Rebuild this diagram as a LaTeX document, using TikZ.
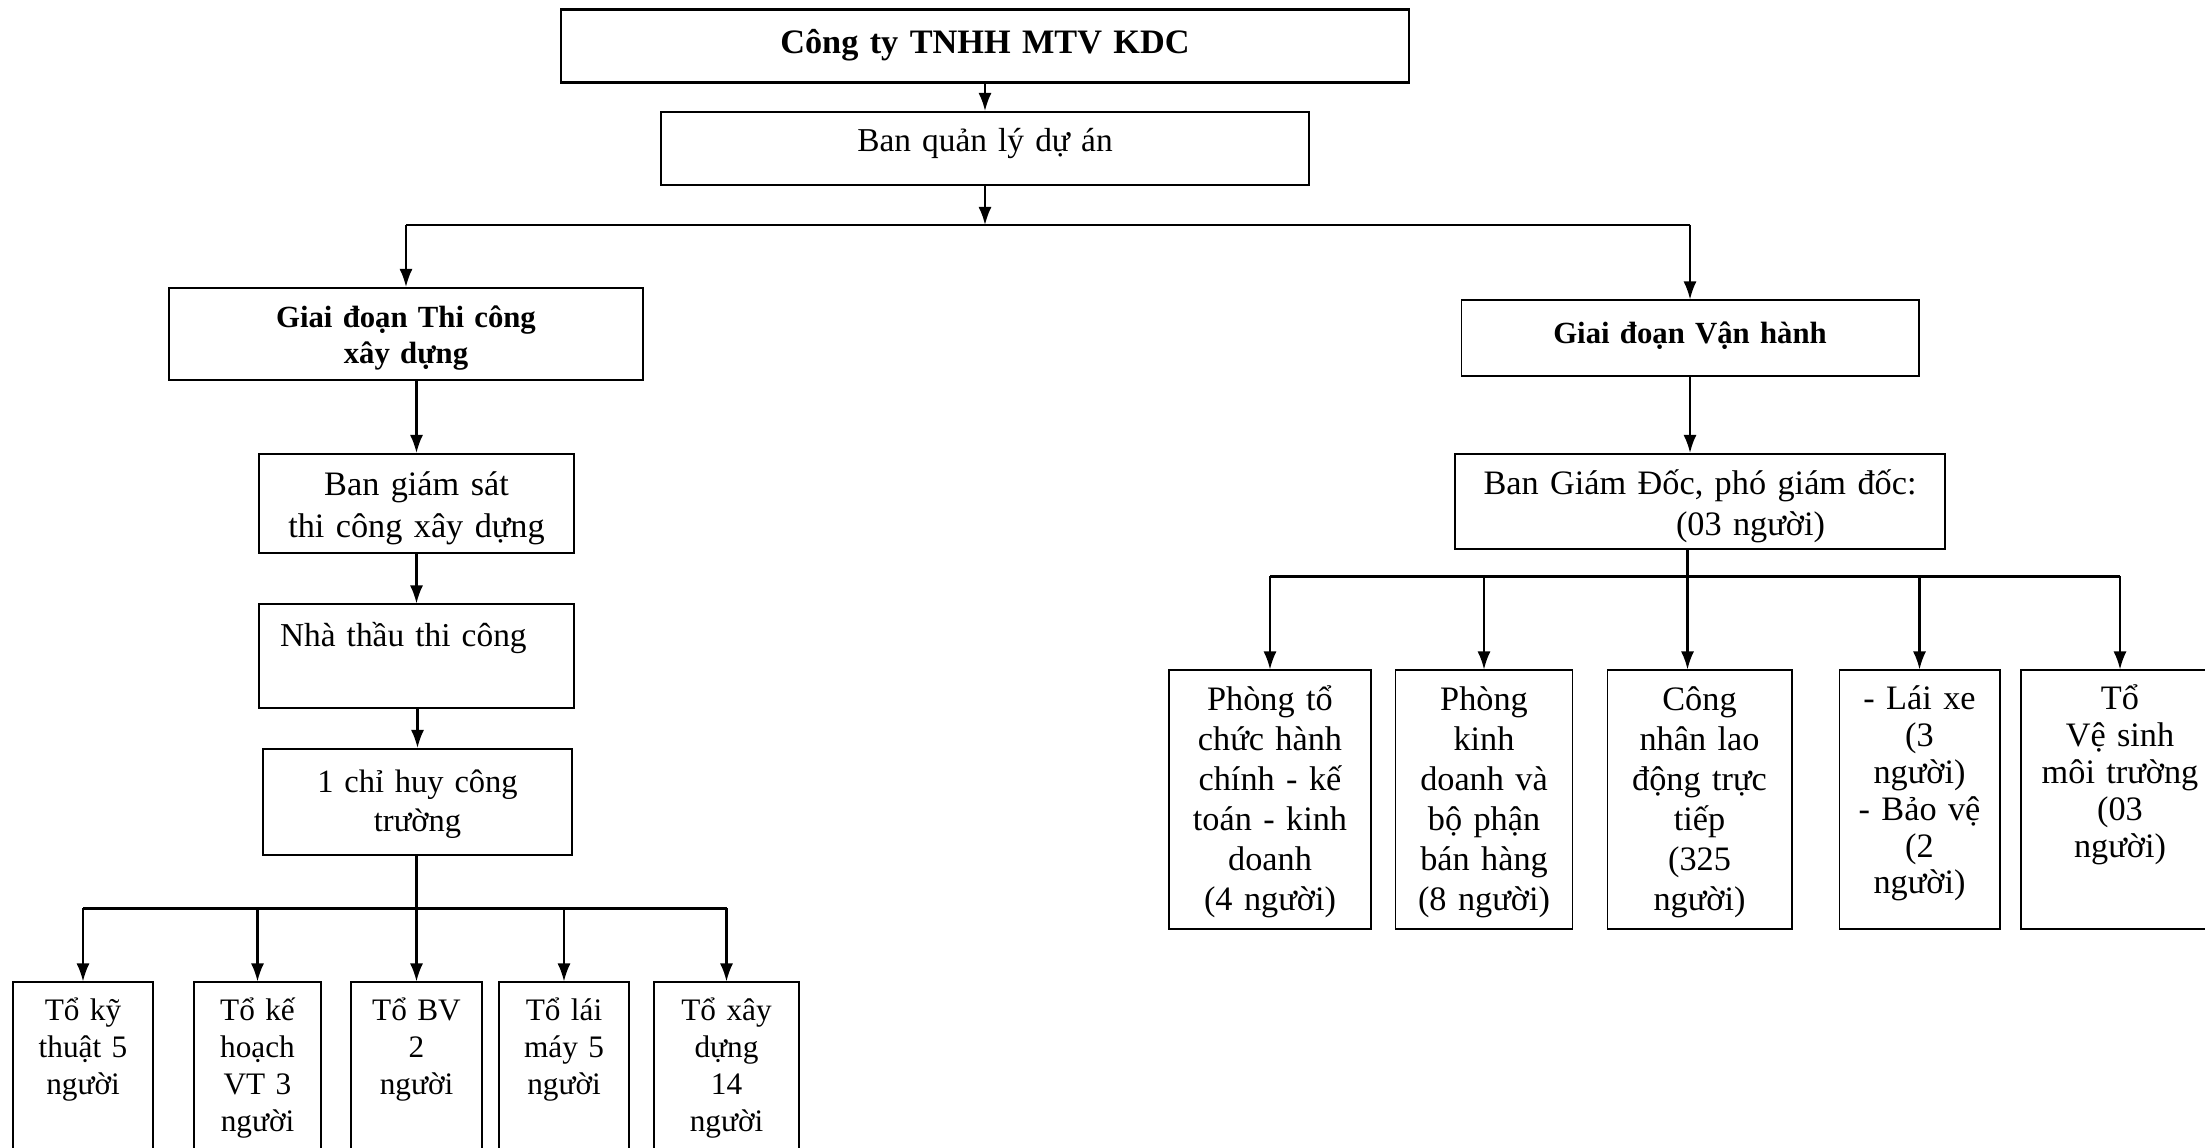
\documentclass[tikz,border=0pt]{standalone}
\usepackage{fontspec}
\setmainfont{Liberation Serif}
\usetikzlibrary{arrows.meta,positioning}

\tikzset{
  orgbox/.style={draw, line width=1.1pt, inner xsep=2pt, inner ysep=0pt,
    anchor=north, align=center, font=\fontsize{19.5}{23.5}\selectfont},
  stagebox/.style={orgbox, font=\bfseries\fontsize{17.5}{20.5}\selectfont},
  teambox/.style={orgbox, text height=0.76cm, text depth=3.5cm,
    font=\fontsize{17.8}{21}\selectfont},
  deptbox/.style={orgbox, text height=0.81cm, text depth=4.36cm,
    font=\fontsize{19.5}{22.7}\selectfont},
  link/.style={line width=1.2pt, -{Latex[length=3.6mm,width=2.6mm]}},
  bus/.style={line width=1.2pt}
}

\begin{document}
\begin{tikzpicture}
      \useasboundingbox (0,0) rectangle (44.1,22.96);
      \clip (0,0) rectangle (44.1,22.96);

      \node[orgbox, line width=1.5pt, text width=16.82cm, text height=0.87cm, text depth=0.59cm,
        font=\bfseries\fontsize{19.5}{23.5}\selectfont] (top) at (19.7,22.79) {Công ty TNHH MTV KDC};
      \node[orgbox, text width=12.83cm, text height=0.79cm, text depth=0.67cm,
        font=\fontsize{19}{23}\selectfont] (bqlda) at (19.7,20.74) {Ban quản lý dự án};
      \coordinate (bus1) at (19.7,18.46);

      % giai doan thi cong
      \node[stagebox, text width=9.34cm, text height=0.785cm, text depth=1.065cm] (thicong) at (8.12,17.22)
        {Giai đoạn Thi công\\xây dựng};
      \node[orgbox, text width=6.16cm, text height=0.84cm, text depth=1.15cm] (giamsat) at (8.33,13.90)
        {Ban giám sát\\thi công xây dựng};
      \node[orgbox, align=left, inner xsep=0.42cm, text width=5.46cm, text height=0.84cm, text depth=1.24cm,
        font=\fontsize{19}{23}\selectfont] (nhathau) at (8.33,10.89) {Nhà thầu thi công};
      \node[orgbox, text width=6.05cm, text height=0.87cm, text depth=1.25cm,
        font=\fontsize{18.5}{22.5}\selectfont] (chihuy) at (8.35,8.0) {1 chỉ huy công\\trường};
      \coordinate (bus2) at (8.33,4.79);

      \node[teambox, text width=2.67cm] (kythuat) at (1.66,3.33) {Tổ kỹ\\thuật 5\\người};
      \node[teambox, text width=2.39cm] (kehoach) at (5.15,3.33) {Tổ kế\\hoạch\\VT 3\\người};
      \node[teambox, text width=2.48cm] (bv) at (8.33,3.33) {Tổ BV\\2\\người};
      \node[teambox, text width=2.45cm] (laimay) at (11.28,3.33) {Tổ lái\\máy 5\\người};
      \node[teambox, text width=2.76cm] (xaydung) at (14.53,3.33) {Tổ xây\\dựng\\14\\người};

      % giai doan van hanh
      \node[stagebox, text width=9.0cm, text height=0.87cm, text depth=0.65cm] (vanhanh) at (33.8,16.97)
        {Giai đoạn Vận hành};
      \node[orgbox, text width=9.65cm, text height=0.81cm, text depth=1.10cm] (bgd) at (34.0,13.90)
        {Ban Giám Đốc, phó giám đốc:\\\hspace*{2.02cm}(03 người)};
      \coordinate (bus3) at (33.75,11.43);

      \node[deptbox, text width=3.89cm] (phongtc) at (25.4,9.57)
        {Phòng tổ\\chức hành\\chính - kế\\toán - kinh\\doanh\\(4 người)};
      \node[deptbox, text width=3.40cm] (phongkd) at (29.68,9.57)
        {Phòng\\kinh\\doanh và\\bộ phận\\bán hàng\\(8 người)};
      \node[deptbox, text width=3.54cm] (congnhan) at (33.99,9.57)
        {Công\\nhân lao\\động trực\\tiếp\\(325\\người)};
      \node[deptbox, text width=3.06cm, text height=0.78cm, text depth=4.39cm,
        font=\fontsize{19.5}{21}\selectfont] (laixe) at (38.39,9.57)
        {- Lái xe\\(3\\người)\\- Bảo vệ\\(2\\người)};
      \node[deptbox, text width=3.82cm, text height=0.78cm, text depth=4.39cm,
        font=\fontsize{19.5}{21}\selectfont] (vesinh) at (42.4,9.57)
        {Tổ\\Vệ sinh\\môi trường\\(03\\người)};

      \draw[link] (top.south) -- (bqlda.north);
      \draw[link] (bqlda.south) -- (bus1);
      \draw[bus] (thicong.north |- bus1) -- (vanhanh.north |- bus1);
      \draw[link] (thicong.north |- bus1) -- (thicong.north);
      \draw[link] (vanhanh.north |- bus1) -- (vanhanh.north);

      \draw[link] (thicong.south -| giamsat.north) -- (giamsat.north);
      \draw[link] (giamsat.south) -- (nhathau.north);
      \draw[link] (nhathau.south -| chihuy.north) -- (chihuy.north);
      \draw[link] (chihuy.south -| bv.north) -- (bv.north);
      \draw[bus] (kythuat.north |- bus2) -- (xaydung.north |- bus2);
      \foreach \n in {kythuat,kehoach,laimay,xaydung}
        \draw[link] (\n.north |- bus2) -- (\n.north);

      \draw[link] (vanhanh.south) -- (vanhanh.south |- bgd.north);
      \draw[link] (bgd.south -| bus3) -- (bus3 |- congnhan.north);
      \draw[bus] (phongtc.north |- bus3) -- (vesinh.north |- bus3);
      \foreach \n in {phongtc,phongkd,laixe,vesinh}
        \draw[link] (\n.north |- bus3) -- (\n.north);
\end{tikzpicture}
\end{document}
